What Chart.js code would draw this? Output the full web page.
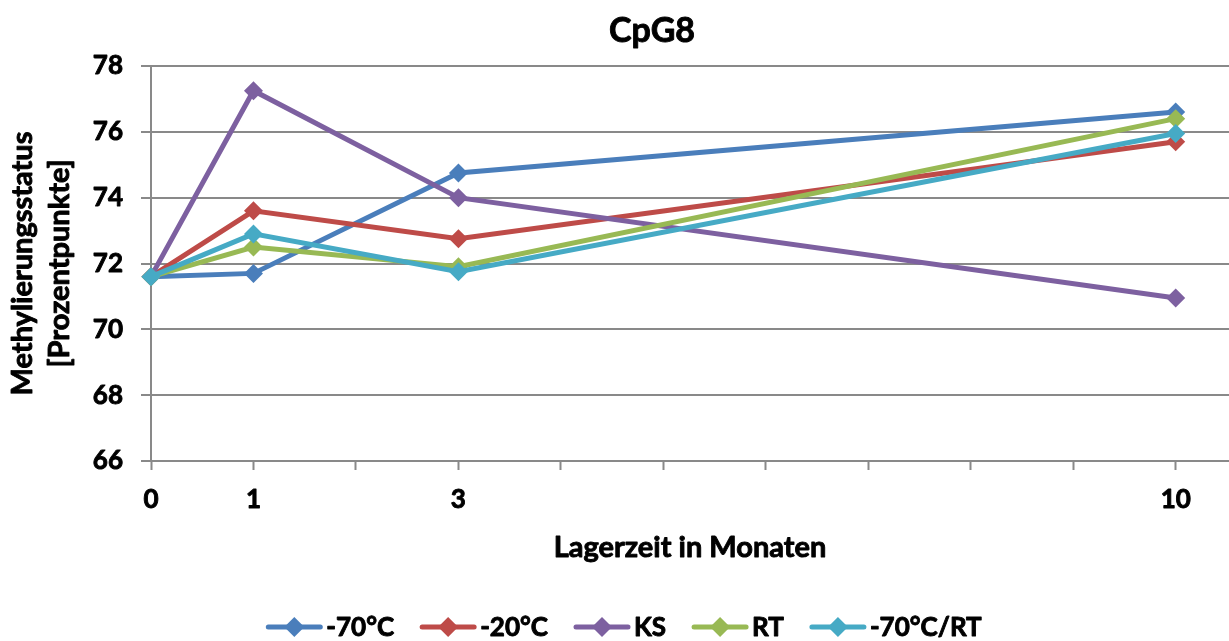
<!DOCTYPE html>
<html>
<head>
<meta charset="utf-8">
<script src="https://cdn.jsdelivr.net/npm/chart.js@4/dist/chart.umd.min.js"></script>
<style>
  html, body { margin: 0; padding: 0; background: #ffffff; }
  #wrap { width: 1229px; height: 641px; position: relative; }
</style>
</head>
<body>
<div id="wrap"><canvas id="c" width="1229" height="641"></canvas></div>
<script>
// Storage time in months
const months = [0, 1, 3, 10];
// Methylation status per storage condition
const m70 = [71.6, 71.7, 74.75, 76.6];
const m20 = [71.6, 73.6, 72.75, 75.7];
const ks = [71.6, 77.25, 74.0, 70.95];
const rt = [71.6, 72.5, 71.9, 76.4];
const m70rt = [71.6, 72.9, 71.75, 75.95];
// Labelled x positions
const xTickLabels = [0, 1, 3, 10];

const seriesNames = ['-70°C', '-20°C', 'KS', 'RT', '-70°C/RT'];
const seriesValues = [m70, m20, ks, rt, m70rt];
const seriesColors = ['#4A7EBB', '#BE4B48', '#7D60A0', '#98B954', '#46AAC5'];

const FONT = 'Lato, "Open Sans", sans-serif';
const GRID = '#898989';

const datasets = seriesNames.map((name, i) => ({
  label: name,
  data: months.map((m, j) => ({ x: m, y: seriesValues[i][j] })),
  borderColor: seriesColors[i],
  backgroundColor: seriesColors[i],
  borderWidth: 5,
  pointStyle: 'rectRot',
  pointRadius: 9.5,
  pointHoverRadius: 9.5,
  pointBorderWidth: 0,
  tension: 0,
  clip: false,
  order: seriesNames.length - i
}));

// Give all text a slightly heavier stroke
const heavyText = {
  id: 'heavyText',
  beforeDraw(chart) {
    const ctx = chart.ctx;
    if (ctx.__heavy) return;
    ctx.__heavy = true;
    const fill = ctx.fillText.bind(ctx);
    ctx.fillText = function (text, x, y, maxWidth) {
      if (maxWidth === undefined) fill(text, x, y); else fill(text, x, y, maxWidth);
      ctx.save();
      ctx.lineWidth = 0.9;
      ctx.lineJoin = 'round';
      ctx.strokeStyle = ctx.fillStyle;
      if (maxWidth === undefined) ctx.strokeText(text, x, y); else ctx.strokeText(text, x, y, maxWidth);
      ctx.restore();
    };
  }
};

// Title drawn slightly right of the canvas centre
const titlePlugin = {
  id: 'cpgTitle',
  afterDraw(chart) {
    const ctx = chart.ctx;
    ctx.save();
    ctx.font = 'bold 34px ' + FONT;
    ctx.fillStyle = '#000';
    ctx.textAlign = 'center';
    ctx.textBaseline = 'middle';
    ctx.fillText('CpG8', 652, 31);
    ctx.restore();
  }
};

// Legend: line segment with a diamond marker, then the series name
const legendPlugin = {
  id: 'lineLegend',
  afterDraw(chart) {
    const ctx = chart.ctx;
    const lineLen = 56, gapText = 4, gapItem = 26, y = 627;
    ctx.save();
    ctx.font = 'bold 26px ' + FONT;
    const items = chart.data.datasets.map(ds => ({
      ds, w: lineLen + gapText + ctx.measureText(ds.label).width
    }));
    const total = items.reduce((s, it) => s + it.w, 0) + gapItem * (items.length - 1);
    let x = 624 - total / 2;
    items.forEach(({ ds, w }) => {
      ctx.strokeStyle = ds.borderColor;
      ctx.lineWidth = 5;
      ctx.lineCap = 'round';
      ctx.beginPath();
      ctx.moveTo(x + 2, y);
      ctx.lineTo(x + lineLen - 2, y);
      ctx.stroke();
      const cx = x + lineLen / 2, r = 10;
      ctx.fillStyle = ds.backgroundColor;
      ctx.beginPath();
      ctx.moveTo(cx, y - r);
      ctx.lineTo(cx + r, y);
      ctx.lineTo(cx, y + r);
      ctx.lineTo(cx - r, y);
      ctx.closePath();
      ctx.fill();
      ctx.fillStyle = '#000';
      ctx.textAlign = 'left';
      ctx.textBaseline = 'middle';
      ctx.fillText(ds.label, x + lineLen + gapText, y + 1);
      x += w + gapItem;
    });
    ctx.restore();
  }
};

new Chart(document.getElementById('c'), {
  type: 'line',
  data: { datasets },
  plugins: [heavyText, titlePlugin, legendPlugin],
  options: {
    responsive: false,
    animation: false,
    events: [],
    layout: { autoPadding: false, padding: { top: 66, left: 0, right: 0, bottom: 0 } },
    plugins: {
      legend: { display: false },
      title: { display: false },
      tooltip: { enabled: false }
    },
    scales: {
      x: {
        type: 'linear',
        min: 0,
        max: 10.52,
        afterBuildTicks(scale) {
          const t = [];
          for (let v = 0; v <= 10; v++) t.push({ value: v });
          scale.ticks = t;
        },
        afterFit(scale) {
          scale.height = 180;
          scale.paddingLeft = 0;
          scale.paddingRight = 0;
        },
        ticks: {
          autoSkip: false,
          maxRotation: 0,
          padding: 14,
          color: '#000',
          font: { family: FONT, size: 26, weight: 'bold' },
          callback: (v) => xTickLabels.includes(v) ? String(v) : ''
        },
        grid: {
          drawOnChartArea: false,
          drawTicks: true,
          tickLength: 9,
          tickColor: GRID,
          tickWidth: 2
        },
        border: { display: true, color: GRID, width: 2 },
        title: {
          display: true,
          text: 'Lagerzeit in Monaten',
          color: '#000',
          font: { family: FONT, size: 29, weight: 'bold' },
          padding: { top: 0, bottom: 76 }
        }
      },
      y: {
        min: 66,
        max: 78,
        afterFit(scale) { scale.width = 151; },
        ticks: {
          stepSize: 2,
          padding: 18,
          color: '#000',
          font: { family: FONT, size: 26, weight: 'bold' }
        },
        grid: {
          color: GRID,
          lineWidth: 2,
          drawTicks: true,
          tickLength: 10,
          tickColor: GRID
        },
        border: { display: true, color: GRID, width: 2 },
        title: {
          display: true,
          text: ['Methylierungsstatus', '[Prozentpunkte]'],
          color: '#000',
          font: { family: FONT, size: 29, weight: 'bold', lineHeight: 1.28 },
          padding: { top: 4, bottom: 0 }
        }
      }
    }
  }
});
</script>
</body>
</html>
